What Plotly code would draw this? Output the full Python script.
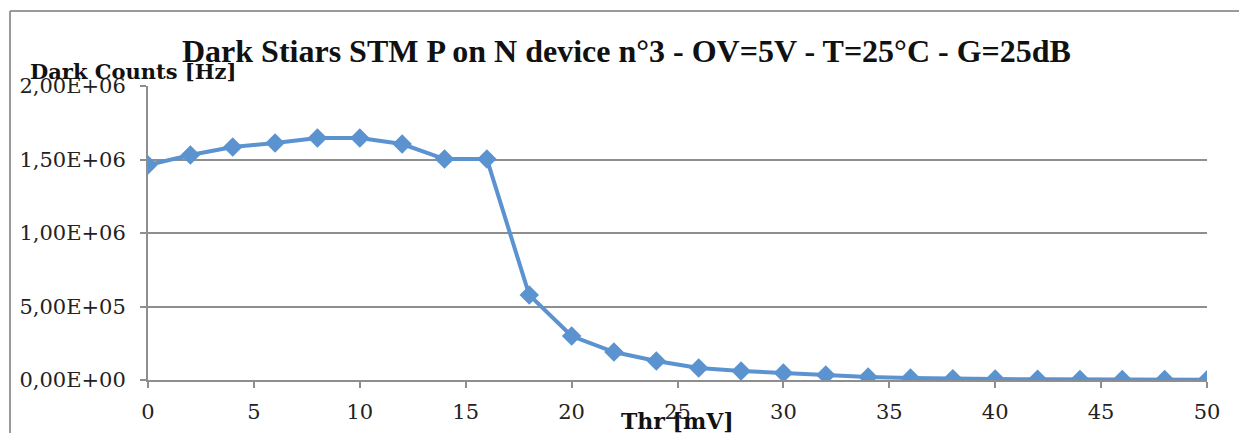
import plotly.graph_objects as go

thr_mv = [0, 2, 4, 6, 8, 10, 12, 14, 16, 18, 20, 22, 24, 26, 28, 30, 32, 34, 36, 38, 40, 42, 44, 46, 48, 50]
dark_counts = [1.463e6, 1.531e6, 1.585e6, 1.612e6, 1.646e6, 1.646e6, 1.605e6, 1.503e6, 1.503e6,
               5.78e5, 2.99e5, 1.9e5, 1.29e5, 8.2e4, 6.1e4, 4.8e4, 3.4e4, 2.0e4, 1.4e4,
               8e3, 6e3, 5e3, 4e3, 3e3, 3e3, 2e3]
y_tick_vals = [0, 5e5, 1e6, 1.5e6, 2e6]
y_tick_text = ["0,00E+00", "5,00E+05", "1,00E+06", "1,50E+06", "2,00E+06"]
x_tick_vals = [0, 5, 10, 15, 20, 25, 30, 35, 40, 45, 50]

W, H = 1239, 435
L, R, T, B = 148, 32, 86, 55
pw, ph = W - L - R, H - T - B

def px(x):
    return (x - L) / pw

def py(y):
    return (H - B - y) / ph

SERIF = "DejaVu Serif, Liberation Serif, serif"
TSERIF = "Liberation Serif, DejaVu Serif, serif"
BLUE = "#5A93CF"
GRID = "#8e8e8e"

fig = go.Figure()
fig.add_trace(go.Scatter(
    x=thr_mv, y=dark_counts, mode="lines+markers",
    line=dict(color=BLUE, width=4),
    marker=dict(symbol="diamond", size=15, color=BLUE),
    showlegend=False,
))

fig.update_layout(
    width=W, height=H,
    margin=dict(l=L, r=R, t=T, b=B),
    paper_bgcolor="white", plot_bgcolor="white",
    font=dict(family=SERIF, color="#222222", size=21),
    xaxis=dict(range=[0, 50], tickvals=x_tick_vals, showgrid=False, zeroline=False,
               showline=True, linecolor=GRID, linewidth=2, ticks="outside", ticklen=6,
               tickcolor=GRID, tickwidth=2, ticklabelstandoff=6,
               tickfont=dict(size=21, family=SERIF, color="#222")),
    yaxis=dict(range=[0, 2e6], tickvals=y_tick_vals, ticktext=y_tick_text, showgrid=True,
               gridcolor=GRID, gridwidth=2, zeroline=False, showline=True, linecolor=GRID,
               linewidth=2, ticks="outside", ticklen=6, tickcolor=GRID, tickwidth=2,
               ticklabelstandoff=10,
               tickfont=dict(size=21, family=SERIF, color="#222")),
    annotations=[
        dict(text="<b>Dark Stiars STM P on N device n°3 - OV=5V - T=25°C - G=25dB</b>",
             xref="paper", yref="paper", x=px(626), y=py(51), xanchor="center", yanchor="middle",
             showarrow=False, font=dict(size=32, family=TSERIF, color="#111")),
        dict(text="<b>Dark Counts [Hz]</b>",
             xref="paper", yref="paper", x=px(28), y=py(72), xanchor="left", yanchor="middle",
             showarrow=False, font=dict(size=21, family=SERIF, color="#111")),
        dict(text="<b>Thr [mV]</b>",
             xref="paper", yref="paper", x=px(677), y=py(421), xanchor="center", yanchor="middle",
             showarrow=False, font=dict(size=22, family=SERIF, color="#111")),
    ],
    shapes=[
        dict(type="line", xref="paper", yref="paper", x0=px(10), x1=px(1239), y0=py(11), y1=py(11),
             line=dict(color="#9a9a9a", width=2)),
        dict(type="line", xref="paper", yref="paper", x0=px(10), x1=px(10), y0=py(11), y1=py(433),
             line=dict(color="#9a9a9a", width=2)),
    ],
)

fig.write_html("out.html")
